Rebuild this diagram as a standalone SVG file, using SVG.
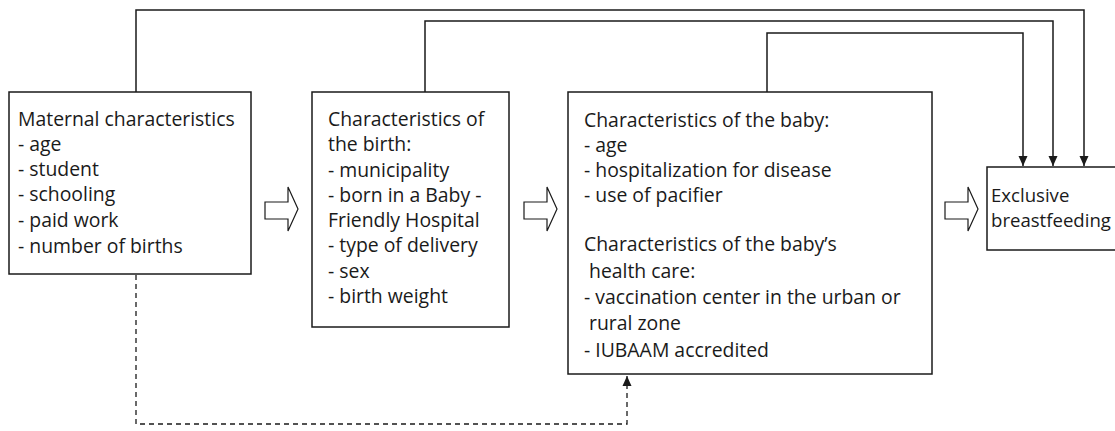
<svg xmlns="http://www.w3.org/2000/svg" width="1115" height="431" viewBox="0 0 1115 431">
<defs>
<style>
.box{fill:#fff;stroke:#1a1a1a;stroke-width:1.5}
.t{font-family:"Open Sans","Noto Sans",sans-serif;font-size:19.4px;fill:#1a1a1a}
.s{font-size:18.6px}
.c{fill:none;stroke:#1a1a1a;stroke-width:1.5}
.d{fill:none;stroke:#1a1a1a;stroke-width:1.3;stroke-dasharray:5 4}
.ha{fill:#fff;stroke:#1a1a1a;stroke-width:1.2;stroke-linejoin:miter}
</style>
<marker id="ah" markerWidth="10" markerHeight="10" viewBox="0 0 10 10" refX="10" refY="5" orient="auto" markerUnits="userSpaceOnUse">
<path d="M0,0.5 L10,5 L0,9.5 Z" fill="#1a1a1a"/>
</marker>
</defs>
<rect width="1115" height="431" fill="#fff"/>
<g id="connectors">
<path class="c" d="M136,92 V10 H1084 V166" marker-end="url(#ah)"/>
<path class="c" d="M425,92 V21 H1053 V166" marker-end="url(#ah)"/>
<path class="c" d="M767,92 V33 H1023 V166" marker-end="url(#ah)"/>
<path class="d" d="M136,275 V424 H627 V376" marker-end="url(#ah)"/>
<polygon class="ha" points="265,202 288,202 288,187 298,209 288,231 288,219 265,219"/>
<polygon class="ha" points="524,202 547,202 547,187 557,209 547,231 547,219 524,219"/>
<polygon class="ha" points="945,202 968,202 968,187 978,209 968,231 968,219 945,219"/>
</g>
<g id="maternal">
<rect class="box" x="9" y="92" width="242" height="182"/>
<text class="t" x="18" y="126">Maternal characteristics</text>
<text class="t" x="18" y="151">- age</text>
<text class="t" x="18" y="176">- student</text>
<text class="t" x="18" y="201">- schooling</text>
<text class="t" x="18" y="227">- paid work</text>
<text class="t" x="18" y="253">- number of births</text>
</g>
<g id="birth">
<rect class="box" x="312" y="92" width="197" height="235"/>
<text class="t" x="328" y="126">Characteristics of</text>
<text class="t" x="328" y="151">the birth:</text>
<text class="t" x="328" y="177">- municipality</text>
<text class="t" x="328" y="202">- born in a Baby -</text>
<text class="t" x="328" y="227">Friendly Hospital</text>
<text class="t" x="328" y="252">- type of delivery</text>
<text class="t" x="328" y="278">- sex</text>
<text class="t" x="328" y="303">- birth weight</text>
</g>
<g id="baby">
<rect class="box" x="568" y="92" width="364" height="282"/>
<text class="t" x="584" y="127">Characteristics of the baby:</text>
<text class="t" x="584" y="152">- age</text>
<text class="t" x="584" y="177">- hospitalization for disease</text>
<text class="t" x="584" y="202">- use of pacifier</text>
<text class="t" x="584" y="251">Characteristics of the baby’s</text>
<text class="t" x="589" y="278">health care:</text>
<text class="t" x="584" y="304">- vaccination center in the urban or</text>
<text class="t" x="589" y="330">rural zone</text>
<text class="t" x="584" y="357">- IUBAAM accredited</text>
</g>
<g id="outcome">
<rect class="box" x="987" y="167" width="140" height="83"/>
<text class="t s" x="991" y="202">Exclusive</text>
<text class="t s" x="991" y="227">breastfeeding</text>
</g>
</svg>
